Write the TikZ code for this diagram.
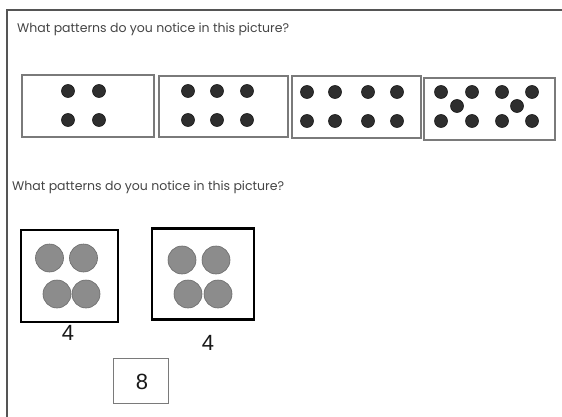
\documentclass[tikz,border=0pt]{standalone}
\usepackage{fontspec}
\usepackage{graphicx}
\newfontfamily\arialfont{Liberation Sans}
\newfontfamily\qfont{Poppins}
\definecolor{qtext}{HTML}{454545}
\definecolor{boxgrey}{HTML}{7A7A7A}
\definecolor{dotfill}{HTML}{2E2E2E}
\definecolor{bigfill}{HTML}{8C8C8C}
\definecolor{bigline}{HTML}{6A6A6A}
\definecolor{frameline}{HTML}{555555}
\newcommand{\qtxt}{\resizebox{272pt}{!}{\qfont What patterns do you notice in this picture?}}
\tikzset{
  question/.style={anchor=base west, inner sep=0pt, text=qtext},
  rowbox/.style={draw=boxgrey, line width=1.2pt, inner sep=0pt},
  dotnode/.style={circle, fill=dotfill, draw=black!90, line width=0.6pt, minimum size=13pt, inner sep=0pt},
  quadbox/.style={draw=black, line width=2.4pt, inner sep=0pt},
  bigdot/.style={circle, fill=bigfill, draw=bigline, line width=0.6pt, minimum size=28pt, inner sep=0pt},
  numlabel/.style={inner sep=0pt, font=\arialfont\fontsize{22}{24}\selectfont, text=black!90},
  sumbox/.style={draw=boxgrey, line width=0.9pt, inner sep=0pt}
}
\begin{document}
\begin{tikzpicture}[x=1pt,y=-1pt]
\useasboundingbox (0,0) rectangle (562,417);
\fill[white] (0,0) rectangle (562,417);
% outer frame
\coordinate (fTL) at (7,10);
\coordinate (fTR) at (562,10);
\coordinate (fBL) at (7,417);
\draw[frameline, line width=1.5pt] (fBL) -- (fTL) -- (fTR);
% questions
\node[question] (q1) at (17,33) {\qtxt};
\node[question] (q2) at (12,190) {\qtxt};
% top row boxes
\node[rowbox, minimum width=132pt, minimum height=62pt] (b1) at (88,106) {};
\node[rowbox, minimum width=129pt, minimum height=61pt] (b2) at (223.5,106.5) {};
\node[rowbox, minimum width=129pt, minimum height=62pt] (b3) at (356.5,107) {};
\node[rowbox, minimum width=131pt, minimum height=62pt] (b4) at (489.5,109) {};
% box 1 dots
\foreach \x [count=\i] in {68,99}{
  \node[dotnode] (b1t\i) at (\x,91) {};
  \node[dotnode] (b1b\i) at (\x,120) {};
}
% box 2 dots
\foreach \x [count=\i] in {188,217,247}{
  \node[dotnode] (b2t\i) at (\x,91) {};
  \node[dotnode] (b2b\i) at (\x,120) {};
}
% box 3 dots
\foreach \x [count=\i] in {307,335,368,397}{
  \node[dotnode] (b3t\i) at (\x,92) {};
  \node[dotnode] (b3b\i) at (\x,121) {};
}
% box 4 dots
\foreach \x [count=\i] in {441,472,502,532}{
  \node[dotnode] (b4t\i) at (\x,92) {};
  \node[dotnode] (b4b\i) at (\x,121) {};
}
\node[dotnode] (b4m1) at (457,106) {};
\node[dotnode] (b4m2) at (517,106) {};
% bottom boxes
\node[quadbox, minimum width=97pt, minimum height=92pt] (qa) at (69.5,276) {};
\node[quadbox, minimum width=102pt, minimum height=91pt] (qb) at (203,274) {};
\node[bigdot] (qa1) at (49.5,258) {};
\node[bigdot] (qa2) at (83.5,258) {};
\node[bigdot] (qa3) at (57,294) {};
\node[bigdot] (qa4) at (86,294) {};
\node[bigdot] (qb1) at (182,260) {};
\node[bigdot] (qb2) at (216,260) {};
\node[bigdot] (qb3) at (188,294) {};
\node[bigdot] (qb4) at (218,294) {};
\node[numlabel] (na) at (68,333) {4};
\node[numlabel] (nb) at (208,343) {4};
\node[sumbox, minimum width=55pt, minimum height=45pt] (sb) at (140.5,380.5) {};
\node[numlabel] (ns) at (142,382) {8};
\end{tikzpicture}
\end{document}
